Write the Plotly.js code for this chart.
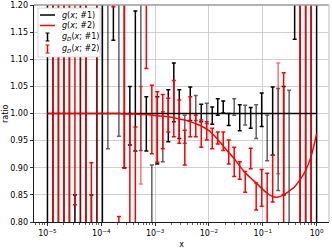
<!DOCTYPE html>
<html><head><meta charset="utf-8">
<script src="https://cdn.plot.ly/plotly-3.0.1.min.js"></script>
<style>html,body{margin:0;padding:0;background:#fff}#chart{width:332px;height:249px}</style>
</head><body><div id="chart"></div>
<script>
const xValues = [1.000e-5,1.265e-5,1.600e-5,2.024e-5,2.560e-5,3.237e-5,4.095e-5,5.179e-5,6.551e-5,8.286e-5,
1.048e-4,1.326e-4,1.677e-4,2.121e-4,2.683e-4,3.393e-4,4.292e-4,5.429e-4,6.866e-4,8.685e-4,
1.099e-3,1.389e-3,1.758e-3,2.223e-3,2.812e-3,3.556e-3,4.498e-3,5.690e-3,7.197e-3,9.103e-3,
1.151e-2,1.456e-2,1.842e-2,2.330e-2,2.947e-2,3.728e-2,4.715e-2,5.964e-2,7.543e-2,9.541e-2,
0.1207,0.1526,0.1931,0.2442,0.3089,0.3907,0.4942,0.6251,0.7906,1.0];

const gLine1 = [1,1,1,1,1,1,1,1,1,1, 1,1,1,1,1,1,1,1,1,1, 1,1,1,1,1,1,1,1,1,1, 1,1,1,1,1,1,1,1,1,1, 1,1,1,1,1,1,1,1,1,1];
const gLine2 = [1.000,1.000,1.000,1.000,1.000,1.000,1.000,1.000,1.000,1.000,
1.000,1.000,1.000,1.000,0.999,0.999,0.999,0.998,0.998,0.997,
0.996,0.995,0.994,0.992,0.990,0.988,0.985,0.981,0.977,0.971,
0.963,0.952,0.940,0.928,0.917,0.903,0.891,0.881,0.872,0.862,
0.853,0.847,0.846,0.850,0.857,0.865,0.878,0.895,0.921,0.963];

const gD1 = [1.000,1.000,1.000,1.000,1.000,0.750,1.000,1.000,0.700,1.000,
1.000,1.200,1.300,1.250,1.200,0.996,1.060,1.150,0.981,0.750,
0.969,0.957,0.996,1.039,0.999,0.971,1.018,1.010,1.001,1.000,
0.996,1.012,1.012,0.989,1.012,0.992,0.997,0.992,0.985,1.007,
0.955,0.986,0.952,0.950,0.850,1.300,1.000,1.000,1.000,1.000];
const gD1Err = [0.500,0.400,0.400,0.400,0.400,0.100,0.400,0.400,0.150,0.400,
0.400,0.265,0.165,0.292,0.300,0.054,0.129,0.218,0.050,0.155,
0.062,0.046,0.048,0.054,0.045,0.026,0.031,0.023,0.016,0.019,
0.016,0.015,0.011,0.011,0.015,0.024,0.018,0.019,0.031,0.031,
0.042,0.063,0.094,0.100,0.193,0.163,0.400,0.400,0.400,0.500];

const gD2 = [0.500,1.000,1.000,1.000,0.901,1.200,0.895,1.000,0.700,1.049,
0.500,1.500,1.350,0.700,1.200,0.800,0.800,0.960,1.250,0.989,
0.975,0.985,0.997,1.009,0.985,0.937,0.994,0.977,0.963,0.968,
0.954,0.955,0.949,0.929,0.911,0.895,0.874,0.917,0.847,0.863,
0.800,0.880,0.991,0.900,0.500,1.500,1.000,1.000,1.000,0.500];
const gD2Err = [0.100,0.400,0.400,0.400,0.400,0.368,0.400,0.400,0.209,0.400,
0.100,0.200,0.153,0.110,0.301,0.200,0.175,0.090,0.167,0.063,
0.065,0.050,0.031,0.052,0.040,0.032,0.037,0.020,0.025,0.017,
0.019,0.011,0.017,0.022,0.027,0.016,0.019,0.019,0.025,0.034,
0.090,0.043,0.102,0.175,0.100,0.200,0.400,0.400,0.400,0.100];

const xTickVals = [1e-5,1e-4,1e-3,1e-2,1e-1,1];
const xTickText = ['10<sup>−5</sup>','10<sup>−4</sup>','10<sup>−3</sup>','10<sup>−2</sup>','10<sup>−1</sup>','10<sup>0</sup>'];
const yTickVals = [0.80,0.85,0.90,0.95,1.00,1.05,1.10,1.15,1.20];
const yTickText = ['0.80','0.85','0.90','0.95','1.00','1.05','1.10','1.15','1.20'];
const legendLabels = ['<i>g</i>(<i>x</i>; #1)','<i>g</i>(<i>x</i>; #2)','<i>g</i><sub><i>D</i></sub>(<i>x</i>; #1)','<i>g</i><sub><i>D</i></sub>(<i>x</i>; #2)'];

// ---- styling ----
const FONT = 'DejaVu Sans, sans-serif';
const fadedBlack = [11,13,17,19,21,25,27,29,34,36,38,40,42,44];
const fadedRed = [6,9,17,42];
const BLACK = '#000000', GRAY = 'rgba(0,0,0,0.62)', RED = '#ff0000', PINK = 'rgba(255,0,0,0.55)';

function errTrace(vals, errs, keep, color) {
  const idx = xValues.map((_, i) => i).filter(keep);
  return {
    type: 'scatter', mode: 'markers',
    x: idx.map(i => xValues[i]), y: idx.map(i => vals[i]),
    marker: {size: 1, color: 'rgba(0,0,0,0)'},
    error_y: {type: 'data', array: idx.map(i => errs[i]), visible: true, color: color, thickness: 1.5, width: 2},
    showlegend: false, hoverinfo: 'skip'
  };
}

const traces = [
  errTrace(gD1, gD1Err, i => !fadedBlack.includes(i), BLACK),
  errTrace(gD1, gD1Err, i => fadedBlack.includes(i), GRAY),
  errTrace(gD2, gD2Err, i => !fadedRed.includes(i), RED),
  errTrace(gD2, gD2Err, i => fadedRed.includes(i), PINK),
  {type: 'scatter', mode: 'lines', x: xValues, y: gLine1, line: {color: BLACK, width: 1.5}, showlegend: false, hoverinfo: 'skip'},
  {type: 'scatter', mode: 'lines', x: xValues, y: gLine2, line: {color: RED, width: 1.5, shape: 'spline', smoothing: 0.6}, showlegend: false, hoverinfo: 'skip'}
];

// plot area in pixels
const P = {l: 34, t: 5, w: 295, h: 217};
const fx = p => (p - P.l) / P.w;
const fy = p => (P.t + P.h - p) / P.h;

const minorVals = [];
for (let e = -6; e <= 0; e++) for (let m = 2; m <= 9; m++) minorVals.push(m * Math.pow(10, e));

const shapes = [
  {type: 'line', xref: 'paper', yref: 'paper', x0: 0, x1: 1, y0: 1, y1: 1, line: {color: '#9a9a9a', width: 1.6}, layer: 'above'},
  {type: 'line', xref: 'paper', yref: 'paper', x0: 1, x1: 1, y0: 0, y1: 1, line: {color: '#d2d2d2', width: 1.6}, layer: 'above'},
  {type: 'rect', xref: 'paper', yref: 'paper', x0: fx(38), x1: fx(100), y0: fy(57), y1: fy(8),
   fillcolor: 'rgba(255,255,255,1)', line: {color: '#cccccc', width: 0.8}, layer: 'above'},
  {type: 'line', xref: 'paper', yref: 'paper', x0: fx(40), x1: fx(55), y0: fy(15), y1: fy(15), line: {color: BLACK, width: 1.5}, layer: 'above'},
  {type: 'line', xref: 'paper', yref: 'paper', x0: fx(40), x1: fx(55), y0: fy(25.5), y1: fy(25.5), line: {color: RED, width: 1.5}, layer: 'above'}
];
[[37, BLACK], [49, RED]].forEach(([cy, c]) => {
  shapes.push({type: 'line', xref: 'paper', yref: 'paper', x0: fx(47.5), x1: fx(47.5), y0: fy(cy - 4), y1: fy(cy + 4), line: {color: c, width: 1.5}, layer: 'above'});
  shapes.push({type: 'line', xref: 'paper', yref: 'paper', x0: fx(45.5), x1: fx(49.5), y0: fy(cy - 4), y1: fy(cy - 4), line: {color: c, width: 1}, layer: 'above'});
  shapes.push({type: 'line', xref: 'paper', yref: 'paper', x0: fx(45.5), x1: fx(49.5), y0: fy(cy + 4), y1: fy(cy + 4), line: {color: c, width: 1}, layer: 'above'});
});

const annotations = [15, 25.5, 37, 49].map((cy, k) => ({
  xref: 'paper', yref: 'paper', x: fx(60), y: fy(cy), xanchor: 'left', yanchor: 'middle',
  text: legendLabels[k], showarrow: false, font: {family: FONT, size: 8, color: '#000'}
}));
// y-axis title
annotations.push({xref: 'paper', yref: 'paper', x: 0, y: fy(113.5), xanchor: 'right', yanchor: 'middle',
  xshift: -22, text: 'ratio', textangle: -90, showarrow: false, font: {family: FONT, size: 8, color: '#000'}});

const layout = {
  width: 332, height: 249,
  margin: {l: P.l, r: 332 - P.l - P.w, t: P.t, b: 249 - P.t - P.h, pad: 0},
  paper_bgcolor: '#fff', plot_bgcolor: '#fff',
  font: {family: FONT, size: 8, color: '#000'},
  showlegend: false,
  xaxis: {
    type: 'log', range: [-5.25, 0.23], tickmode: 'array', tickvals: xTickVals, ticktext: xTickText,
    ticks: 'outside', ticklen: 3.5, tickwidth: 0.8, tickcolor: '#000',
    showgrid: true, gridcolor: '#c4c4c4', gridwidth: 0.8,
    showline: true, linecolor: '#000', linewidth: 0.9, mirror: false, zeroline: false,
    tickfont: {family: FONT, size: 8, color: '#000'},
    title: {text: 'x', font: {family: FONT, size: 8, color: '#000'}, standoff: 4},
    minor: {tickmode: 'array', tickvals: minorVals, ticks: 'outside', ticklen: 2, tickwidth: 0.6, tickcolor: '#000', showgrid: false}
  },
  yaxis: {
    range: [0.8, 1.2], tickmode: 'array', tickvals: yTickVals, ticktext: yTickText,
    ticks: 'outside', ticklen: 3.5, tickwidth: 0.8, tickcolor: '#000',
    showgrid: true, gridcolor: '#c4c4c4', gridwidth: 0.8,
    showline: true, linecolor: '#000', linewidth: 0.9, mirror: false, zeroline: false,
    tickfont: {family: FONT, size: 8, color: '#000'}
  },
  shapes: shapes,
  annotations: annotations
};

Plotly.newPlot('chart', traces, layout, {displayModeBar: false, staticPlot: true});
</script></body></html>
